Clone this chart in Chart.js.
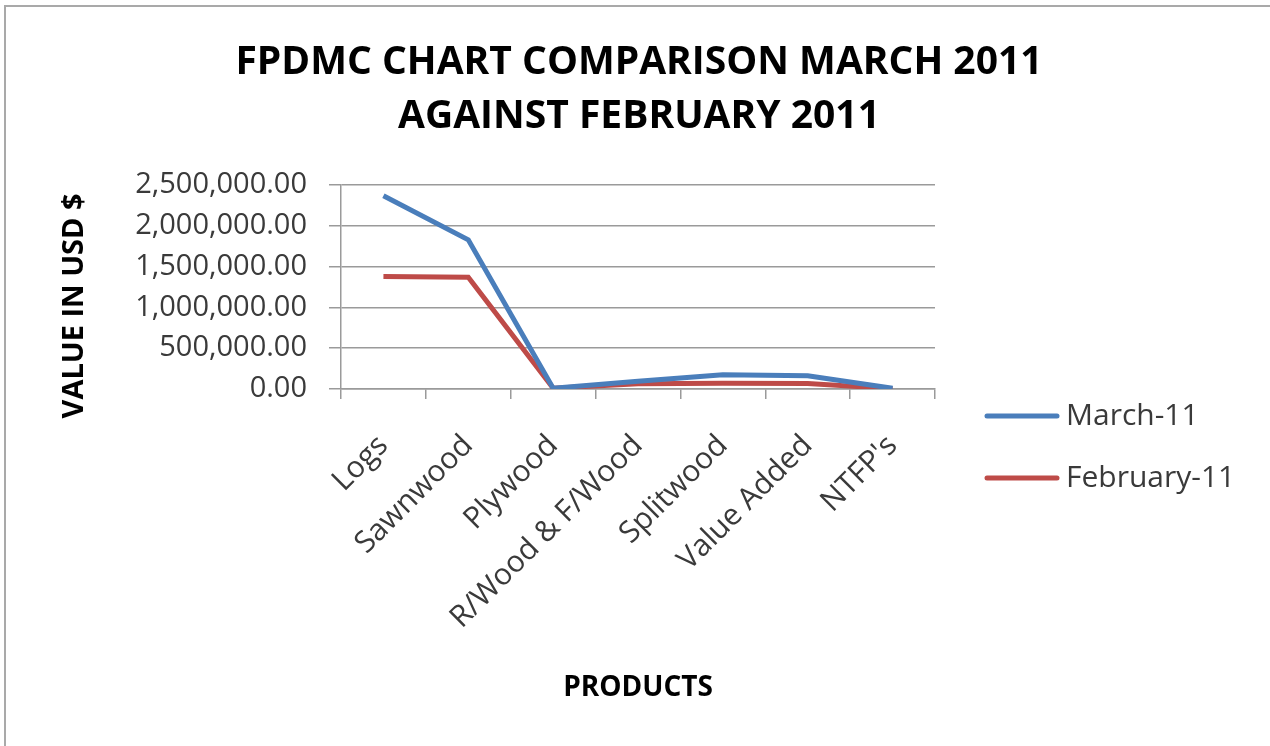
<!DOCTYPE html>
<html>
<head>
<meta charset="utf-8">
<title>FPDMC Chart Comparison</title>
<script src="https://cdn.jsdelivr.net/npm/chart.js@4/dist/chart.umd.min.js"></script>
<style>
  html, body { margin: 0; padding: 0; background: #fff; overflow: hidden; }
  #frame { position: absolute; left: 4px; top: 5px; width: 1290px; height: 739px; border: 2px solid #a9a9a9; }
  #chart { position: absolute; left: 0; top: 0; }
</style>
</head>
<body>
<div id="frame"></div>
<canvas id="chart" width="1270" height="746"></canvas>
<script>
const categories = ['Logs', 'Sawnwood', 'Plywood', 'R/Wood & F/Wood', 'Splitwood', 'Value Added', "NTFP's"];
const march11 = [2370000, 1830000, 10000, 94000, 175000, 163000, 8000];
const february11 = [1380000, 1370000, 10000, 65000, 70000, 68000, 4000];
const yTicks = [0, 500000, 1000000, 1500000, 2000000, 2500000];
const seriesNames = ['March-11', 'February-11'];
const titleLines = ['FPDMC CHART COMPARISON MARCH 2011', 'AGAINST FEBRUARY 2011'];

const FONT = "'Open Sans', 'DejaVu Sans', sans-serif";
const GRID = '#9a9a9a';
const TEXT = '#3a3a3a';

// legend drawn at the right, Excel style
const sideLegend = {
    id: 'sideLegend',
    afterDraw(chart) {
        const ctx = chart.ctx;
        ctx.save();
        chart.data.datasets.forEach(function(ds, i) {
            const y = 416 + i * 62;
            ctx.strokeStyle = ds.borderColor;
            ctx.lineWidth = 5;
            ctx.lineCap = 'round';
            ctx.beginPath();
            ctx.moveTo(987, y);
            ctx.lineTo(1057, y);
            ctx.stroke();
            ctx.fillStyle = TEXT;
            ctx.font = '30px ' + FONT;
            ctx.textBaseline = 'middle';
            ctx.fillText(ds.label, 1066, y);
        });
        ctx.restore();
    }
};

new Chart(document.getElementById('chart').getContext('2d'), {
    type: 'line',
    data: {
        labels: categories,
        datasets: [
            { label: seriesNames[0], data: march11, borderColor: '#4a7ebb', borderWidth: 5, pointRadius: 0, tension: 0 },
            { label: seriesNames[1], data: february11, borderColor: '#be4b48', borderWidth: 5, pointRadius: 0, tension: 0 }
        ]
    },
    options: {
        responsive: false,
        animation: false,
        layout: { padding: { left: 8, right: 0, top: 0, bottom: 0 } },
        plugins: {
            legend: { display: false },
            tooltip: { enabled: false },
            title: {
                display: true,
                text: titleLines,
                color: '#000',
                font: { family: FONT, size: 39, weight: 'bold', lineHeight: 1.38 },
                padding: { top: 36, bottom: 41.5 }
            }
        },
        scales: {
            x: {
                offset: true,
                afterFit: function(s) { s.height = 357; },
                grid: { offset: true, drawOnChartArea: false, drawTicks: true, tickLength: 10, color: GRID, lineWidth: 1.5 },
                border: { color: GRID, width: 1.5 },
                ticks: { autoSkip: false, maxRotation: 45, minRotation: 45, padding: 29, color: TEXT, font: { family: FONT, size: 30 } },
                title: { display: true, text: 'PRODUCTS', color: '#000', font: { family: FONT, size: 28, weight: 'bold' }, padding: { top: 0, bottom: 41 } }
            },
            y: {
                min: 0,
                max: 2500000,
                afterFit: function(s) { s.width = 333; },
                afterBuildTicks: function(s) { s.ticks = yTicks.map(v => ({ value: v })); },
                grid: { color: GRID, lineWidth: 1.5, tickLength: 12 },
                border: { color: GRID, width: 1.5 },
                ticks: {
                    padding: 22,
                    color: TEXT,
                    font: { family: FONT, size: 29 },
                    callback: v => Number(v).toLocaleString('en-US', { minimumFractionDigits: 2, maximumFractionDigits: 2 })
                },
                title: { display: true, text: 'VALUE IN USD $\u00a0\u00a0\u00a0\u00a0\u00a0', color: '#000', font: { family: FONT, size: 29, weight: 'bold' }, padding: { top: 49, bottom: 0 } }
            },
            // empty box on the right that keeps room for the legend
            side: {
                position: 'right',
                display: true,
                afterFit: function(s) { s.width = 335; },
                grid: { display: false },
                border: { display: false },
                ticks: { display: false }
            }
        }
    },
    plugins: [sideLegend]
});
</script>
</body>
</html>
